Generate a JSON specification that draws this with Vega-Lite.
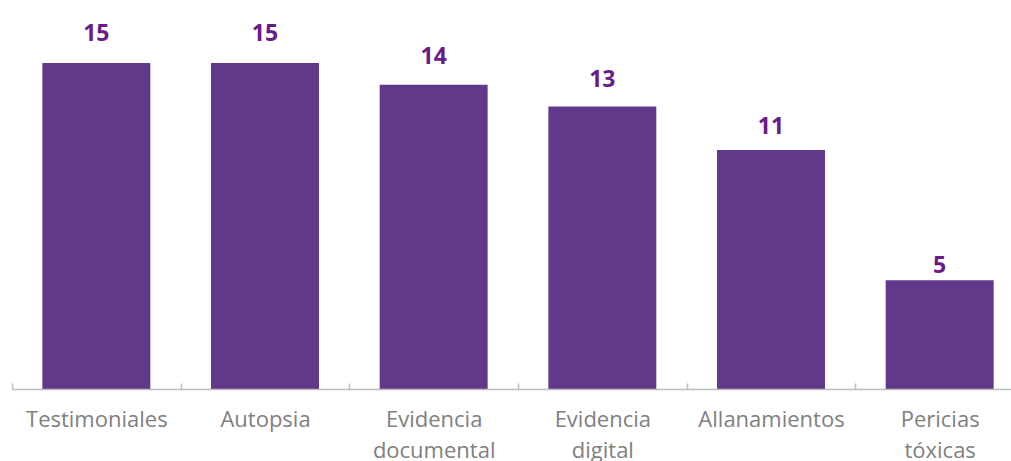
{
  "$schema": "https://vega.github.io/schema/vega-lite/v6.json",
  "width": 999,
  "height": 389,
  "autosize": "none",
  "padding": {"left": 12, "top": 0, "right": 0, "bottom": 72},
  "background": "white",
  "config": {"view": {"stroke": null}},
  "data": {
    "values": [
      {"categoria": "Testimoniales", "valor": 15},
      {"categoria": "Autopsia", "valor": 15},
      {"categoria": "Evidencia documental", "valor": 14},
      {"categoria": "Evidencia digital", "valor": 13},
      {"categoria": "Allanamientos", "valor": 11},
      {"categoria": "Pericias tóxicas", "valor": 5}
    ]
  },
  "encoding": {
    "x": {
      "field": "categoria",
      "type": "nominal",
      "sort": null,
      "scale": {"range": [0, 1012], "paddingInner": 0, "paddingOuter": 0},
      "axis": {
        "title": null,
        "labelAngle": 0,
        "labelExpr": "split(datum.label, ' ')",
        "labelFont": "Open Sans",
        "labelFontSize": 22,
        "labelColor": "#808080",
        "labelLineHeight": 31,
        "labelPadding": 26,
        "labelBaseline": "top",
        "ticks": true,
        "tickBand": "extent",
        "tickSize": -6,
        "tickColor": "#bdbdbd",
        "tickWidth": 1.5,
        "domainColor": "#bdbdbd",
        "domainWidth": 1.5,
        "zindex": 1
      }
    }
  },
  "layer": [
    {
      "mark": {"type": "bar", "color": "#62388a", "width": {"band": 0.64}},
      "encoding": {
        "y": {
          "field": "valor",
          "type": "quantitative",
          "scale": {"domain": [0, 17.9], "nice": false},
          "axis": null
        }
      }
    },
    {
      "mark": {
        "type": "text",
        "baseline": "alphabetic",
        "font": "Open Sans",
        "fontWeight": "bold",
        "fontSize": 23,
        "color": "#6a1b8a"
      },
      "encoding": {
        "y": {
          "field": "valor",
          "type": "quantitative",
          "scale": {"domain": [0, 16.77], "nice": false},
          "axis": null
        },
        "text": {"field": "valor", "type": "quantitative"}
      }
    }
  ],
  "resolve": {"scale": {"y": "independent"}}
}
